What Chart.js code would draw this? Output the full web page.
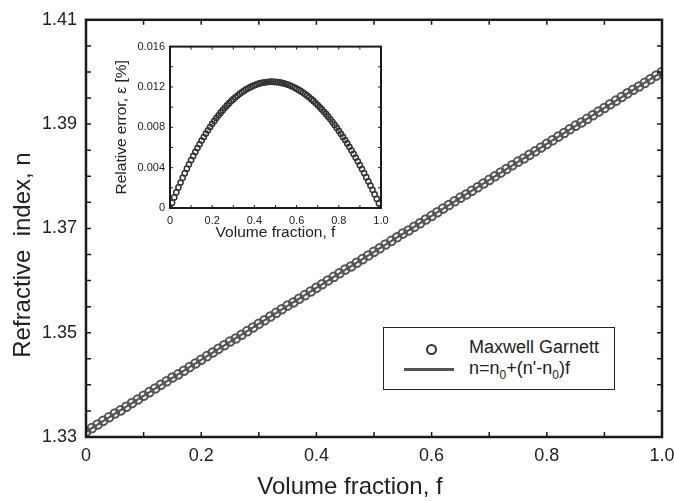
<!DOCTYPE html>
<html>
<head>
<meta charset="utf-8">
<script src="https://cdn.jsdelivr.net/npm/chart.js@4.4.1/dist/chart.umd.min.js"></script>
<style>
  body { margin: 0; background: #fff; }
  #wrap { position: relative; width: 674px; height: 501px; font-family: 'Liberation Sans', Arial, sans-serif; color: #222; }
  #mainChart { position: absolute; left: 0; top: 0; }
  #insetChart { position: absolute; left: 95px; top: 35px; }
  #legend { position: absolute; left: 383px; top: 327px; width: 230px; height: 61px; border: 1.5px solid #222; background: #fff; font-size: 18px; }
  #legend .sym-circle { position: absolute; left: 42px; top: 16px; width: 7px; height: 7px; border: 2px solid #333; border-radius: 50%; }
  #legend .sym-line { position: absolute; left: 20px; top: 40px; width: 50px; height: 2.5px; background: #555; }
  #legend .txt { position: absolute; left: 85px; line-height: 20px; white-space: nowrap; }
  #legend sub { font-size: 12px; vertical-align: -5px; line-height: 0; }
</style>
</head>
<body>
<div id="wrap">
  <canvas id="mainChart" width="674" height="501"></canvas>
  <canvas id="insetChart" width="295" height="215"></canvas>
  <div id="legend"></div>
</div>
<script>
// Volume fraction f
const fractions = [
  0, 0.01, 0.02, 0.03, 0.04, 0.05, 0.06, 0.07, 0.08, 0.09,
  0.10, 0.11, 0.12, 0.13, 0.14, 0.15, 0.16, 0.17, 0.18, 0.19,
  0.20, 0.21, 0.22, 0.23, 0.24, 0.25, 0.26, 0.27, 0.28, 0.29,
  0.30, 0.31, 0.32, 0.33, 0.34, 0.35, 0.36, 0.37, 0.38, 0.39,
  0.40, 0.41, 0.42, 0.43, 0.44, 0.45, 0.46, 0.47, 0.48, 0.49,
  0.50, 0.51, 0.52, 0.53, 0.54, 0.55, 0.56, 0.57, 0.58, 0.59,
  0.60, 0.61, 0.62, 0.63, 0.64, 0.65, 0.66, 0.67, 0.68, 0.69,
  0.70, 0.71, 0.72, 0.73, 0.74, 0.75, 0.76, 0.77, 0.78, 0.79,
  0.80, 0.81, 0.82, 0.83, 0.84, 0.85, 0.86, 0.87, 0.88, 0.89,
  0.90, 0.91, 0.92, 0.93, 0.94, 0.95, 0.96, 0.97, 0.98, 0.99,
  1.00
];

// Maxwell Garnett refractive index n
const maxwellGarnett = [
  1.3310, 1.3317, 1.3324, 1.3331, 1.3338, 1.3345, 1.3351, 1.3358, 1.3365, 1.3372,
  1.3379, 1.3386, 1.3393, 1.3400, 1.3407, 1.3414, 1.3420, 1.3427, 1.3434, 1.3441,
  1.3448, 1.3455, 1.3462, 1.3469, 1.3476, 1.3483, 1.3489, 1.3496, 1.3503, 1.3510,
  1.3517, 1.3524, 1.3531, 1.3538, 1.3545, 1.3552, 1.3558, 1.3565, 1.3572, 1.3579,
  1.3586, 1.3593, 1.3600, 1.3607, 1.3614, 1.3621, 1.3627, 1.3634, 1.3641, 1.3648,
  1.3655, 1.3662, 1.3669, 1.3676, 1.3683, 1.3690, 1.3696, 1.3703, 1.3710, 1.3717,
  1.3724, 1.3731, 1.3738, 1.3745, 1.3752, 1.3759, 1.3765, 1.3772, 1.3779, 1.3786,
  1.3793, 1.3800, 1.3807, 1.3814, 1.3821, 1.3828, 1.3834, 1.3841, 1.3848, 1.3855,
  1.3862, 1.3869, 1.3876, 1.3883, 1.3890, 1.3897, 1.3903, 1.3910, 1.3917, 1.3924,
  1.3931, 1.3938, 1.3945, 1.3952, 1.3959, 1.3966, 1.3972, 1.3979, 1.3986, 1.3993,
  1.4000
];

// Linear law n = n0 + (n' - n0) f
const linearF = [0, 1];
const linearN = [1.331, 1.400];

// Relative error eps [%] (inset)
const relativeError = [
  0, 0.00053, 0.00105, 0.00155, 0.00204, 0.00253, 0.00299, 0.00345, 0.00390, 0.00433,
  0.00475, 0.00516, 0.00556, 0.00595, 0.00632, 0.00669, 0.00704, 0.00738, 0.00771, 0.00803,
  0.00834, 0.00863, 0.00892, 0.00919, 0.00945, 0.00970, 0.00994, 0.01017, 0.01039, 0.01060,
  0.01079, 0.01098, 0.01115, 0.01132, 0.01147, 0.01161, 0.01175, 0.01187, 0.01198, 0.01208,
  0.01217, 0.01225, 0.01232, 0.01238, 0.01242, 0.01246, 0.01249, 0.01251, 0.01252, 0.01251,
  0.01250, 0.01248, 0.01245, 0.01240, 0.01235, 0.01229, 0.01222, 0.01214, 0.01204, 0.01194,
  0.01183, 0.01171, 0.01158, 0.01144, 0.01129, 0.01114, 0.01097, 0.01079, 0.01061, 0.01041,
  0.01021, 0.00999, 0.00977, 0.00954, 0.00930, 0.00905, 0.00879, 0.00852, 0.00824, 0.00796,
  0.00766, 0.00736, 0.00705, 0.00673, 0.00640, 0.00606, 0.00572, 0.00536, 0.00500, 0.00463,
  0.00425, 0.00386, 0.00346, 0.00306, 0.00265, 0.00223, 0.00180, 0.00136, 0.00091, 0.00046,
  0
];

// Tick values and labels
const mainXTicks = [0, 0.2, 0.4, 0.6, 0.8, 1.0];
const mainXLabels = ['0', '0.2', '0.4', '0.6', '0.8', '1.0'];
const mainYTicks = [1.33, 1.35, 1.37, 1.39, 1.41];
const mainYLabels = ['1.33', '1.35', '1.37', '1.39', '1.41'];
const insetXTicks = [0, 0.2, 0.4, 0.6, 0.8, 1.0];
const insetXLabels = ['0', '0.2', '0.4', '0.6', '0.8', '1.0'];
const insetYTicks = [0, 0.004, 0.008, 0.012, 0.016];
const insetYLabels = ['0', '0.004', '0.008', '0.012', '0.016'];

const seriesNames = ['Maxwell Garnett', "n=n<sub>0</sub>+(n'-n<sub>0</sub>)f"];

const FONT = "'Liberation Sans', Arial, sans-serif";
const INK = '#222';

function drawTitle(ctx, t, rotate) {
  ctx.save();
  ctx.fillStyle = INK;
  ctx.font = t.size + 'px ' + FONT;
  ctx.textAlign = 'center';
  ctx.textBaseline = 'middle';
  ctx.translate(t.x, t.y);
  if (rotate) ctx.rotate(-Math.PI / 2);
  ctx.fillText(t.text, 0, 0);
  ctx.restore();
}

// frame + inward ticks on all four sides, optional axis titles
const framePlugin = {
  id: 'frame',
  afterDraw(chart, args, opts) {
    const { ctx, chartArea: a } = chart;
    const xs = chart.scales.x, ys = chart.scales.y;
    ctx.save();
    ctx.strokeStyle = '#1a1a1a';
    ctx.lineWidth = opts.tickWidth;
    ctx.beginPath();
    const nx = Math.round((xs.max - xs.min) / opts.xStep);
    for (let i = 0; i <= nx; i++) {
      const px = xs.getPixelForValue(xs.min + i * opts.xStep);
      ctx.moveTo(px, a.bottom); ctx.lineTo(px, a.bottom - opts.tickLen);
      ctx.moveTo(px, a.top); ctx.lineTo(px, a.top + opts.tickLen);
    }
    const ny = Math.round((ys.max - ys.min) / opts.yStep);
    for (let i = 0; i <= ny; i++) {
      const py = ys.getPixelForValue(ys.min + i * opts.yStep);
      ctx.moveTo(a.left, py); ctx.lineTo(a.left + opts.tickLen, py);
      ctx.moveTo(a.right, py); ctx.lineTo(a.right - opts.tickLen, py);
    }
    ctx.stroke();
    ctx.lineWidth = opts.frameWidth;
    ctx.strokeRect(a.left, a.top, a.right - a.left, a.bottom - a.top);
    ctx.restore();
    if (opts.yTitle) drawTitle(ctx, opts.yTitle, true);
    if (opts.xTitle) drawTitle(ctx, opts.xTitle, false);
  }
};

Chart.register(framePlugin);

const toPoints = (xs, ys) => xs.map((x, i) => ({ x: x, y: ys[i] }));

// let the last x label run past the plot edge, as in the original figure
const fixXAxis = h => s => { s.height = h; s.paddingRight = 0; };

// Main chart
new Chart(document.getElementById('mainChart'), {
  type: 'scatter',
  data: {
    datasets: [{
      label: 'Maxwell Garnett',
      data: toPoints(fractions, maxwellGarnett),
      pointStyle: 'circle',
      pointRadius: 4.3,
      pointBorderWidth: 2,
      pointBorderColor: '#555',
      pointBackgroundColor: 'rgba(0,0,0,0)',
      showLine: false,
      order: 0
    }, {
      label: 'linear',
      data: toPoints(linearF, linearN),
      showLine: true,
      borderColor: '#5a5a5a',
      borderWidth: 2,
      pointRadius: 0,
      order: 1
    }]
  },
  options: {
    responsive: false,
    animation: false,
    devicePixelRatio: 1,
    layout: { padding: { left: 0, top: 14, right: 12, bottom: 0 } },
    plugins: {
      legend: { display: false },
      tooltip: { enabled: false },
      frame: {
        xStep: 0.1, yStep: 0.005, tickLen: 5, tickWidth: 1.5, frameWidth: 2.5,
        yTitle: { text: 'Refractive  index, n', x: 23, y: 255, size: 24 },
        xTitle: { text: 'Volume fraction, f', x: 350, y: 487, size: 24 }
      }
    },
    scales: {
      x: {
        type: 'linear', min: 0, max: 1,
        afterBuildTicks: s => { s.ticks = mainXTicks.map(v => ({ value: v })); },
        afterFit: fixXAxis(64),
        grid: { display: false, drawTicks: false },
        border: { display: false },
        ticks: { padding: 8, color: INK, font: { family: FONT, size: 18 }, maxRotation: 0,
                 callback: (v, i) => mainXLabels[i] }
      },
      y: {
        type: 'linear', min: 1.33, max: 1.41,
        afterBuildTicks: s => { s.ticks = mainYTicks.map(v => ({ value: v })); },
        afterFit: s => { s.width = 86; },
        grid: { display: false, drawTicks: false },
        border: { display: false },
        ticks: { padding: 9, color: INK, font: { family: FONT, size: 18 },
                 callback: (v, i) => mainYLabels[i] }
      }
    }
  }
});

// Inset chart
new Chart(document.getElementById('insetChart'), {
  type: 'scatter',
  data: {
    datasets: [{
      label: 'Relative error',
      data: toPoints(fractions, relativeError),
      pointStyle: 'circle',
      pointRadius: 2.6,
      pointBorderWidth: 1.5,
      pointBorderColor: '#333',
      pointBackgroundColor: 'rgba(0,0,0,0)',
      showLine: false
    }]
  },
  options: {
    responsive: false,
    animation: false,
    devicePixelRatio: 1,
    layout: { padding: { left: 0, top: 9, right: 9, bottom: 0 } },
    plugins: {
      legend: { display: false },
      tooltip: { enabled: false },
      frame: { xStep: 0.1, yStep: 0.002, tickLen: 3, tickWidth: 1, frameWidth: 2 }
    },
    scales: {
      x: {
        type: 'linear', min: 0, max: 1,
        afterBuildTicks: s => { s.ticks = insetXTicks.map(v => ({ value: v })); },
        afterFit: fixXAxis(42),
        grid: { display: false, drawTicks: false },
        border: { display: false },
        ticks: { padding: 6, color: INK, font: { family: FONT, size: 11 }, maxRotation: 0,
                 callback: (v, i) => insetXLabels[i] },
        title: { display: true, text: 'Volume fraction, f', color: INK,
                 font: { family: FONT, size: 15.5 }, padding: { top: 0, bottom: 8 } }
      },
      y: {
        type: 'linear', min: 0, max: 0.016,
        afterBuildTicks: s => { s.ticks = insetYTicks.map(v => ({ value: v })); },
        afterFit: s => { s.width = 75; },
        grid: { display: false, drawTicks: false },
        border: { display: false },
        ticks: { padding: 5, color: INK, font: { family: FONT, size: 11 },
                 callback: (v, i) => insetYLabels[i] },
        title: { display: true, text: 'Relative error, ε [%]', color: INK,
                 font: { family: FONT, size: 15.5 }, padding: { top: 17, bottom: 0 } }
      }
    }
  }
});

// Legend
const legend = document.getElementById('legend');
legend.innerHTML =
  '<span class="sym-circle"></span>' +
  '<span class="txt" style="top:9px">' + seriesNames[0] + '</span>' +
  '<span class="sym-line"></span>' +
  '<span class="txt" style="top:30px">' + seriesNames[1] + '</span>';
</script>
</body>
</html>
